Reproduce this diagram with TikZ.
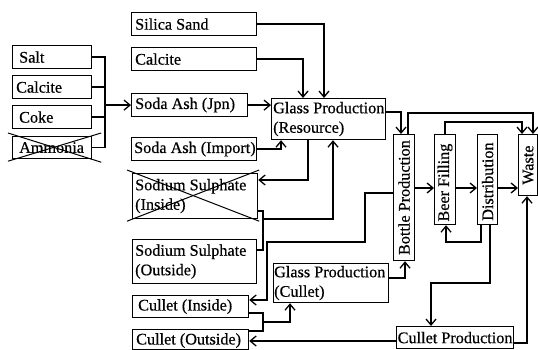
\documentclass[tikz,border=0pt]{standalone}
\usepackage{fontspec}
\setmainfont[FakeBold=0.5]{Liberation Serif}
\usetikzlibrary{arrows.meta}
\begin{document}
\begin{tikzpicture}[x=1pt,y=-1pt,
  box/.style={draw, line width=1.2pt, inner sep=0pt, anchor=north west},
  txt/.style={anchor=west, inner sep=0pt, align=left, font=\fontsize{16.2}{19.5}\selectfont},
  vtxt/.style={inner sep=0pt, rotate=90, font=\fontsize{16.2}{19.5}\selectfont},
  ln/.style={line width=1.2pt},
  arr/.style={line width=1.2pt, -{Straight Barb[length=6pt,width=10pt,line width=1.3pt]}},
  crs/.style={line width=1pt}]
\useasboundingbox[fill=white] (0,0) rectangle (538,350);
% left column
\node[box, minimum width=79pt, minimum height=23pt] (salt) at (12,45) {};
\node[txt] (salt-t) at ([xshift=7pt]salt.west) {Salt};
\node[box, minimum width=79pt, minimum height=23pt] (calc1) at (12,75) {};
\node[txt] (calc1-t) at ([xshift=4pt]calc1.west) {Calcite};
\node[box, minimum width=79pt, minimum height=23pt] (coke) at (12,105) {};
\node[txt] (coke-t) at ([xshift=7pt]coke.west) {Coke};
\node[box, minimum width=79pt, minimum height=22pt] (amm) at (12,136) {};
\node[txt] (amm-t) at ([xshift=7pt]amm.west) {Ammonia};
\draw[crs] ([shift={(-4,-3)}]amm.north west) -- ([shift={(9,3)}]amm.south east);
\draw[crs] ([shift={(-4,2)}]amm.south west) -- ([shift={(9,-3)}]amm.north east);
% middle column
\node[box, minimum width=125pt, minimum height=23pt] (silica) at (131,12) {};
\node[txt] (silica-t) at ([xshift=4pt]silica.west) {Silica Sand};
\node[box, minimum width=125pt, minimum height=23pt] (calc2) at (131,47) {};
\node[txt] (calc2-t) at ([xshift=4pt]calc2.west) {Calcite};
\node[box, minimum width=116pt, minimum height=23pt] (sodaj) at (131,93) {};
\node[txt] (sodaj-t) at ([xshift=4pt]sodaj.west) {Soda Ash (Jpn)};
\node[box, minimum width=125pt, minimum height=23pt] (sodai) at (131,137) {};
\node[txt] (sodai-t) at ([xshift=3pt]sodai.west) {Soda Ash (Import)};
\node[box, minimum width=125pt, minimum height=45pt] (ssin) at (132,173) {};
\node[txt] (ssin-t) at ([xshift=3pt]ssin.west) {Sodium Sulphate\\(Inside)};
\draw[crs] ([shift={(-5,-3)}]ssin.north west) -- ([shift={(1,2)}]ssin.south east);
\draw[crs] ([shift={(-5,2)}]ssin.south west) -- ([shift={(1,-3)}]ssin.north east);
\node[box, minimum width=124pt, minimum height=44pt] (ssout) at (132,239) {};
\node[txt] (ssout-t) at ([xshift=3pt]ssout.west) {Sodium Sulphate\\(Outside)};
\node[box, minimum width=116pt, minimum height=22pt] (culin) at (132,295) {};
\node[txt] (culin-t) at ([xshift=6pt]culin.west) {Cullet (Inside)};
\node[box, minimum width=116pt, minimum height=20pt] (culout) at (132,329) {};
\node[txt] (culout-t) at ([xshift=4pt,yshift=-1pt]culout.west) {Cullet (Outside)};
% glass production
\node[box, minimum width=114pt, minimum height=41pt] (glassR) at (271,98) {};
\node[txt] (glassR-t) at ([xshift=2pt]glassR.west) {Glass Production\\(Resource)};
\node[box, minimum width=115pt, minimum height=39pt] (glassC) at (273,263) {};
\node[txt] (glassC-t) at ([xshift=1pt]glassC.west) {Glass Production\\(Cullet)};
% vertical boxes
\node[box, minimum width=21pt, minimum height=126pt] (bottle) at (393,134) {};
\node[vtxt] (bottle-t) at (bottle.center) {Bottle Production};
\node[box, minimum width=21pt, minimum height=90pt] (beer) at (434,134) {};
\node[vtxt] (beer-t) at ([yshift=-3pt]beer.center) {Beer Filling};
\node[box, minimum width=20pt, minimum height=90pt] (dist) at (477,134) {};
\node[vtxt] (dist-t) at ([yshift=-2pt]dist.center) {Distribution};
\node[box, minimum width=19pt, minimum height=61pt] (waste) at (518,134) {};
\node[vtxt] (waste-t) at (waste.center) {Waste};
\node[box, minimum width=117pt, minimum height=22pt] (culprod) at (396,326) {};
\node[txt, anchor=center] (culprod-t) at (culprod.center) {Cullet Production};
% left bracket
\draw[ln] (salt.east) -| (amm.east -| 105,0) -- (amm.east);
\draw[ln] (calc1.east) -- (calc1.east -| 105,0);
\draw[ln] (coke.east) -- (coke.east -| 105,0);
\draw[arr] (sodaj.west -| 105,0) -- (sodaj.west);
% into glass production (resource)
\draw[arr] (silica.east) -| (glassR.north -| 324,0);
\draw[arr] (calc2.east) -| (glassR.north -| 303,0);
\draw[arr] (sodaj.east) -- (sodaj.east -| glassR.west);
\draw[arr] (sodai.east) -| (glassR.south -| 281,0);
\draw[arr] (glassR.south -| 308,0) |- (ssin.east |- 0,180);
% sodium sulphate bracket
\coordinate (ssj) at (263,219);
\draw[ln] (ssin.east |- 0,211) -| (263,250) -- (ssout.east |- 0,250);
\draw[arr] (ssj) -| (glassR.south -| 333,0);
% bottle to cullet inside
\draw[arr] (bottle.west |- 0,193) -- (365,193) -- (365,242) -- (267,242) -- (267,300) -- (culin.east |- 0,300);
% cullet bracket
\coordinate (cj) at (263,322);
\draw[ln] (culin.east |- 0,313) -| (263,331) -- (culout.east |- 0,331);
\draw[arr] (cj) -| (glassC.south -| 290,0);
% to bottle production
\draw[arr] (glassC.east |- 0,278) -| (bottle.south -| 405,0);
\draw[arr] (glassR.east |- 0,112) -| (bottle.north -| 401,0);
% to waste from top
\draw[arr] (bottle.north -| 408,0) -- (408,113) -| (waste.north -| 533,0);
\draw[arr] (beer.north -| 445,0) -- (445,122) -| (waste.north -| 522,0);
% chain
\draw[arr] (bottle.east |- 0,188) -- (beer.west |- 0,188);
\draw[arr] (beer.east |- 0,188) -- (dist.west |- 0,188);
\draw[arr] (dist.east |- 0,188) -- (waste.west |- 0,188);
% from distribution
\draw[arr] (dist.south -| 481,0) -- (481,242) -| (beer.south -| 446,0);
\draw[arr] (dist.south -| 490,0) -- (490,283) -| (culprod.north -| 431,0);
% from cullet production
\draw[arr] (culprod.east |- 0,343) -| (waste.south -| 527,0);
\draw[arr] (culprod.west |- 0,341) -- (culout.east |- 0,341);
\end{tikzpicture}
\end{document}
